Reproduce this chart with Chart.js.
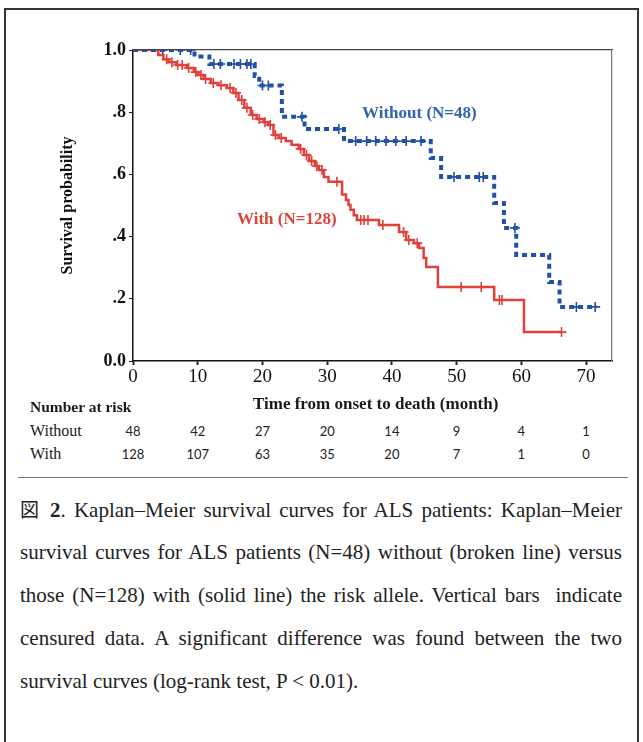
<!DOCTYPE html>
<html>
<head>
<meta charset="utf-8">
<script src="https://cdn.jsdelivr.net/npm/chart.js@4/dist/chart.umd.min.js"></script>
<style>
  html, body { margin: 0; padding: 0; background: #fff; }
  #wrap { position: relative; width: 643px; height: 742px; overflow: hidden; background: #fff; }
  #frame { position: absolute; left: 4px; top: 8px; width: 635px; height: 780px; border: 2px solid #333; box-sizing: border-box; }
  #chart { position: absolute; left: 0; top: 0; }
  .serif { font-family: "Liberation Serif", "Times New Roman", serif; color: #1a1a1a; }
  .lbl { position: absolute; white-space: nowrap; line-height: 1; }
  .num { position: absolute; transform: translateX(-50%); font-family: Lato, "Liberation Sans", sans-serif; font-size: 13px; color: #222; line-height: 1; }
  #rule { position: absolute; left: 18px; top: 477px; width: 610px; height: 0; border-top: 1.5px solid #777; }
  .cap { position: absolute; left: 20px; width: 602px; font-family: "Liberation Serif", "Times New Roman", serif; font-size: 21px; color: #222; line-height: 24px; text-align: justify; text-align-last: justify; white-space: nowrap; }
  .cap.last { text-align: left; text-align-last: left; }
  .cjk { font-family: "Noto Sans CJK JP", sans-serif; font-size: 19px; }
</style>
</head>
<body>
<div id="wrap">
  <div id="frame"></div>
  <canvas id="chart" width="643" height="400"></canvas>

  <div class="lbl serif" style="left:362px; top:104px; font-size:17px; font-weight:bold; color:#3462b0;">Without (N=48)</div>
  <div class="lbl serif" style="left:237px; top:210px; font-size:17px; font-weight:bold; color:#d9463a;">With (N=128)</div>

  <div class="lbl serif" style="left:30px; top:399px; font-size:15.5px; font-weight:bold;">Number at risk</div>
  <div class="lbl serif" style="left:253px; top:395px; font-size:17px; font-weight:bold;">Time from onset to death (month)</div>
  <div class="lbl serif" style="left:30px; top:423px; font-size:16px;">Without</div>
  <div class="lbl serif" style="left:30px; top:446px; font-size:16px;">With</div>
  <div id="risk"></div>

  <div id="rule"></div>

  <div class="cap" style="top:497px;"><span class="cjk">図</span> <b>2</b>. Kaplan–Meier survival curves for ALS patients: Kaplan–Meier</div>
  <div class="cap" style="top:540px;">survival curves for ALS patients (N=48) without (broken line) versus</div>
  <div class="cap" style="top:583px;">those (N=128) with (solid line) the risk allele. Vertical bars&nbsp; indicate</div>
  <div class="cap" style="top:626px;">censured data. A significant difference was found between the two</div>
  <div class="cap last" style="top:669px;">survival curves (log-rank test, P &lt; 0.01).</div>
</div>

<script>
// ---- Data ----
// Kaplan–Meier step points: time (months) where the curve changes, and survival after that time
const withoutTimes = [0, 9.5, 11.8, 18.8, 19.5, 23.0, 26.5, 32.6, 46.0, 47.6, 55.8, 57.3, 59.2, 64.3, 65.9, 71.6];
const withoutSurv  = [1.0, 0.979, 0.955, 0.916, 0.886, 0.785, 0.746, 0.707, 0.653, 0.592, 0.508, 0.428, 0.341, 0.254, 0.174, 0.174];

const withTimes = [0, 3.9, 4.7, 5.5, 6.7, 8.3, 9.4, 10.1, 10.9, 12.0, 13.2, 14.5, 15.5, 16.3, 17.2, 18.2, 19.1, 20.2, 20.9,
                   21.7, 22.5, 23.6, 24.5, 25.6, 26.4, 27.2, 28.1, 28.7, 29.5, 30.2, 32.3, 32.9, 33.3, 33.6, 34.1, 34.6,
                   38.0, 41.1, 42.2, 43.4, 44.2, 44.9, 45.3, 47.1, 55.8, 60.4, 66.2];
const withSurv  = [1.0, 0.984, 0.970, 0.961, 0.952, 0.942, 0.929, 0.920, 0.907, 0.894, 0.887, 0.878, 0.862, 0.839, 0.814, 0.791, 0.778, 0.768, 0.759,
                   0.727, 0.717, 0.707, 0.695, 0.682, 0.662, 0.643, 0.627, 0.614, 0.592, 0.576, 0.535, 0.518, 0.502, 0.486, 0.469, 0.453,
                   0.437, 0.415, 0.389, 0.379, 0.363, 0.331, 0.302, 0.238, 0.196, 0.093, 0.093];

// Censoring times (vertical bars)
const withoutCensored = [4.6, 7.3, 8.9, 12.5, 13.5, 15.6, 16.6, 17.6, 18.2, 20.0, 20.9, 26.1, 31.8, 34.4, 36.1, 37.5, 39.1, 40.6, 42.2, 44.5,
                         49.6, 53.5, 54.1, 59.0, 68.5, 71.4];
const withCensored = [5.2, 6.0, 6.9, 7.6, 8.6, 9.7, 10.5, 11.2, 12.4, 13.6, 15.0, 15.9, 16.8, 17.6, 18.5, 19.5, 20.4, 21.2, 22.0, 22.9,
                      25.9, 26.8, 27.6, 28.4, 29.2, 31.5, 35.2, 35.7, 36.3, 38.6, 41.8, 42.6, 43.9, 50.7, 53.8, 56.6, 57.0, 66.2];

// Number at risk table
const riskTimes   = [0, 10, 20, 30, 40, 50, 60, 70];
const riskWithout = [48, 42, 27, 20, 14, 9, 4, 1];
const riskWith    = [128, 107, 63, 35, 20, 7, 1, 0];

// Axis ticks
const xTickStep = 10;
const yTickStep = 0.2;

// ---- Build ----
const BLUE = '#2350a6';
const RED = '#e0413a';

function steps(times, surv) { return times.map((t, i) => ({ x: t, y: surv[i] })); }
function survAt(times, surv, t) {
  let s = surv[0];
  for (let i = 0; i < times.length; i++) if (times[i] <= t) s = surv[i];
  return s;
}
function censorPts(cens, times, surv) { return cens.map(t => ({ x: t, y: survAt(times, surv, t) })); }

const SERIF = '"Liberation Serif", "Times New Roman", serif';

const chart = new Chart(document.getElementById('chart'), {
  type: 'scatter',
  data: {
    datasets: [
      { label: 'Without', data: steps(withoutTimes, withoutSurv), showLine: true, stepped: 'before',
        borderColor: BLUE, borderWidth: 4, borderDash: [5, 4], borderCapStyle: 'butt', pointRadius: 0, fill: false },
      { label: 'With', data: steps(withTimes, withSurv), showLine: true, stepped: 'before',
        borderColor: RED, borderWidth: 2.5, pointRadius: 0, fill: false },
      { label: 'Without censored', data: censorPts(withoutCensored, withoutTimes, withoutSurv), showLine: false,
        pointStyle: 'cross', pointRadius: 5, borderColor: BLUE, borderWidth: 1.6, backgroundColor: BLUE },
      { label: 'With censored', data: censorPts(withCensored, withTimes, withSurv), showLine: false,
        pointStyle: 'cross', pointRadius: 5, borderColor: RED, borderWidth: 1.6, backgroundColor: RED }
    ]
  },
  options: {
    responsive: false,
    animation: false,
    devicePixelRatio: 1,
    layout: { padding: { top: 50, right: 31, left: 0, bottom: 0 } },
    plugins: { legend: { display: false }, tooltip: { enabled: false } },
    scales: {
      x: {
        type: 'linear', position: 'bottom', min: 0, max: 74,
        ticks: { stepSize: xTickStep, includeBounds: false, color: '#111', padding: 1, maxRotation: 0,
                 font: { family: SERIF, size: 19 } },
        grid: { display: true, drawOnChartArea: false, drawTicks: true, tickLength: 4, color: '#222', tickWidth: 2 },
        border: { display: true, color: '#111', width: 1.5 },
        afterFit: s => { s.height = 39; }
      },
      y: {
        type: 'linear', position: 'left', min: 0, max: 1,
        ticks: { stepSize: yTickStep, color: '#111', padding: 3,
                 font: { family: SERIF, size: 18, weight: 'bold' },
                 callback: v => v === 1 ? '1.0' : (v === 0 ? '0.0' : '.' + Math.round(v * 10)) },
        grid: { display: true, drawOnChartArea: false, drawTicks: true, tickLength: 4, color: '#222' },
        border: { display: true, color: '#111', width: 1.5 },
        title: { display: true, text: 'Survival probability', color: '#111',
                 font: { family: SERIF, size: 16, weight: 'bold' }, padding: { top: 58.5, bottom: 0 } },
        afterFit: s => { s.width = 133; }
      },
      x2: {
        type: 'linear', position: 'top', min: 0, max: 74,
        ticks: { display: false },
        grid: { display: true, drawOnChartArea: false, drawTicks: false },
        border: { display: true, color: '#444', width: 1.3 },
        afterFit: s => { s.height = 0; }
      },
      y2: {
        type: 'linear', position: 'right', min: 0, max: 1,
        ticks: { display: false },
        grid: { display: true, drawOnChartArea: false, drawTicks: false },
        border: { display: true, color: '#777', width: 1.2 },
        afterFit: s => { s.width = 0; }
      }
    }
  }
});

// Number-at-risk table, positioned under the x-axis ticks
const risk = document.getElementById('risk');
const xs = chart.scales.x;
riskTimes.forEach((t, i) => {
  const px = xs.getPixelForValue(t);
  const a = document.createElement('div');
  a.className = 'num'; a.style.left = px + 'px'; a.style.top = '425px'; a.textContent = riskWithout[i];
  risk.appendChild(a);
  const b = document.createElement('div');
  b.className = 'num'; b.style.left = px + 'px'; b.style.top = '448px'; b.textContent = riskWith[i];
  risk.appendChild(b);
});
</script>
</body>
</html>
